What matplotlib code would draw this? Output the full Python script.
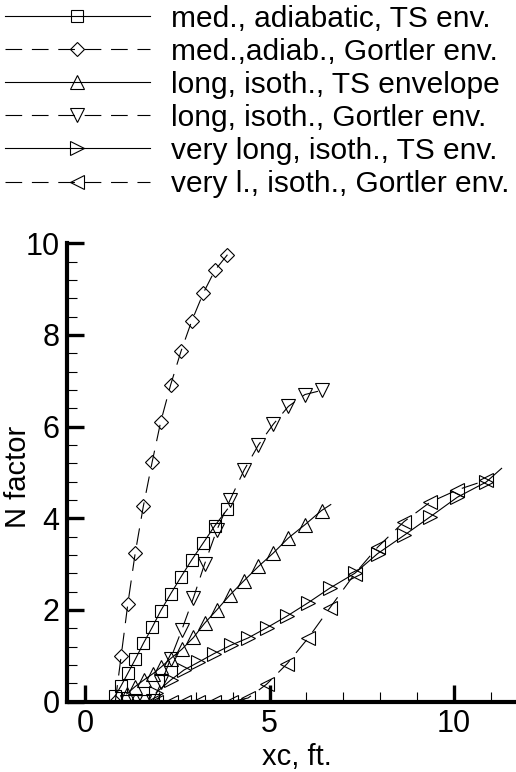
import matplotlib
matplotlib.use('Agg')
import matplotlib.pyplot as plt
from matplotlib.ticker import MultipleLocator

plt.rcParams['font.family'] = ['Liberation Sans', 'DejaVu Sans']
plt.rcParams['lines.scale_dashes'] = False

# medium body, adiabatic wall
med_x = [0.82, 0.98, 1.16, 1.36, 1.58, 1.82, 2.05, 2.32, 2.60, 2.89, 3.21, 3.52, 3.86]
med_ts = [0.13, 0.35, 0.62, 0.92, 1.27, 1.62, 1.98, 2.35, 2.72, 3.09, 3.47, 3.84, 4.20]
med_gortler = [0.0, 1.00, 2.13, 3.24, 4.26, 5.23, 6.10, 6.91, 7.64, 8.30, 8.92, 9.41, 9.75]

# long body, isothermal wall (last TS point has no symbol)
long_x = [1.13, 1.36, 1.59, 1.84, 2.07, 2.32, 2.62, 2.94, 3.24, 3.57, 3.93, 4.31,
          4.70, 5.10, 5.51, 5.96, 6.41]
long_ts = [0.17, 0.33, 0.47, 0.61, 0.76, 0.94, 1.14, 1.40, 1.71, 2.00, 2.33, 2.64,
           2.95, 3.24, 3.57, 3.86, 4.17]
long_ts_end = (6.66, 4.30)
long_gortler = [0.0, 0.0, 0.0, 0.02, 0.42, 0.94, 1.56, 2.27, 3.00, 3.74, 4.40, 5.05,
                5.60, 6.05, 6.44, 6.70, 6.79]

# very long body, isothermal wall
vl_x = [1.93, 2.32, 2.68, 3.07, 3.50, 3.95, 4.42, 4.92, 5.48, 6.05, 6.64, 7.31,
        7.93, 8.65, 9.35, 10.09, 10.87]
vl_ts = [0.20, 0.47, 0.69, 0.86, 1.05, 1.23, 1.39, 1.61, 1.87, 2.16, 2.48, 2.80,
         3.23, 3.63, 4.03, 4.46, 4.79]
vl_ts_end = (11.29, 5.09)
vl_gortler = [0.0, 0.0, 0.0, 0.0, 0.0, 0.0, 0.08, 0.38, 0.83, 1.39, 2.05, 2.79,
              3.37, 3.93, 4.35, 4.62, 4.83]

labels = ['med., adiabatic, TS env.', 'med.,adiab., Gortler env.',
          'long, isoth., TS envelope', 'long, isoth., Gortler env.',
          'very long, isoth., TS env.', 'very l., isoth., Gortler env.']

fig = plt.figure(figsize=(5.16, 7.72), dpi=100)
ax = fig.add_axes([0.129, 0.0911, 0.871, 0.5938])

dash = (0, (12, 7))
kw = dict(color='black', lw=0.8, fillstyle='none', mew=0.8)

ax.plot(med_x, med_ts, '-', marker='s', ms=8.3, label=labels[0], **kw)
ax.plot(med_x, med_gortler, linestyle=dash, marker='D', ms=7.4, label=labels[1], **kw)
ax.plot(long_x + [long_ts_end[0]], long_ts + [long_ts_end[1]], '-', marker='^', ms=9.4,
        markevery=list(range(len(long_x))), label=labels[2], **kw)
ax.plot(long_x, long_gortler, linestyle=dash, marker='v', ms=9.4, label=labels[3], **kw)
ax.plot(vl_x + [vl_ts_end[0]], vl_ts + [vl_ts_end[1]], '-', marker='>', ms=9.4,
        markevery=list(range(len(vl_x))), label=labels[4], **kw)
ax.plot(vl_x, vl_gortler, linestyle=dash, marker='<', ms=9.4, label=labels[5], **kw)

ax.set_xlim(-0.5, 11.68)
ax.set_ylim(0, 10)
ax.xaxis.set_major_locator(MultipleLocator(5))
ax.xaxis.set_minor_locator(MultipleLocator(1))
ax.yaxis.set_major_locator(MultipleLocator(2))
ax.yaxis.set_minor_locator(MultipleLocator(0.4))
ax.tick_params(which='both', direction='in', labelsize=22, pad=5)
ax.tick_params(which='major', length=12, width=2.4)
ax.tick_params(which='minor', length=7.5, width=0.8)
for s in ['top', 'right']:
    ax.spines[s].set_visible(False)
for s in ['left', 'bottom']:
    ax.spines[s].set_linewidth(3)

ax.set_xlabel('xc, ft.', fontsize=21)
ax.set_ylabel('N factor', fontsize=21)
ax.xaxis.set_label_coords(0.5125, -0.090)
ax.yaxis.set_label_coords(-0.078, 0.49)

fig.legend(loc='upper left', bbox_to_anchor=(5 / 516, 0.994), frameon=False,
           fontsize=21.5, handlelength=4.85, handletextpad=0.72, labelspacing=0.17,
           borderpad=0, borderaxespad=0, numpoints=1)

fig.savefig('out.png', dpi=100)
